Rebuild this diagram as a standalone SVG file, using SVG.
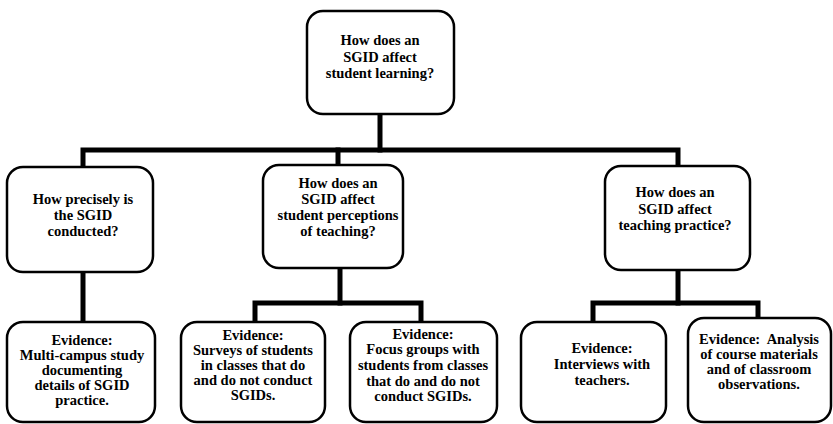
<svg xmlns="http://www.w3.org/2000/svg" width="833" height="424" viewBox="0 0 833 424">
<style>
.box{fill:#fff;stroke:#000;stroke-width:2.5}
.conn{fill:none;stroke:#000;stroke-width:5;stroke-linejoin:miter;stroke-linecap:square}
text{font-family:"Liberation Serif","DejaVu Serif","Times New Roman",serif;font-weight:bold;font-size:14.5px;text-anchor:middle;fill:#000}
</style>
<rect width="833" height="424" fill="#fff"/>
<g id="connectors">
<path class="conn" d="M380,114 V150"/>
<path class="conn" d="M83,167 V150 H678 V166"/>
<path class="conn" d="M338,150 V165"/>
<path class="conn" d="M83,272 V322"/>
<path class="conn" d="M340,268 V303"/>
<path class="conn" d="M255,322 V303 H421 V322"/>
<path class="conn" d="M678,270 V303"/>
<path class="conn" d="M593,322 V303 H758 V318"/>
</g>
<g id="root">
<rect class="box" x="307" y="11" width="147" height="103" rx="16"/>
<text x="380" y="45">How does an</text>
<text x="380" y="62">SGID affect</text>
<text x="380" y="78">student learning?</text>
</g>
<g id="q1">
<rect class="box" x="7" y="167" width="146" height="105" rx="16"/>
<text x="83" y="204">How precisely is</text>
<text x="83" y="220">the SGID</text>
<text x="83" y="236">conducted?</text>
</g>
<g id="q2">
<rect class="box" x="263" y="165" width="140" height="103" rx="16"/>
<text x="338" y="188">How does an</text>
<text x="338" y="204">SGID affect</text>
<text x="338" y="220">student perceptions</text>
<text x="338" y="236">of teaching?</text>
</g>
<g id="q3">
<rect class="box" x="605" y="166" width="145" height="104" rx="16"/>
<text x="675" y="197">How does an</text>
<text x="675" y="214">SGID affect</text>
<text x="675" y="230">teaching practice?</text>
</g>
<g id="e1">
<rect class="box" x="7" y="322" width="148" height="100" rx="16"/>
<text x="82" y="345">Evidence:</text>
<text x="82" y="360">Multi-campus study</text>
<text x="82" y="375">documenting</text>
<text x="82" y="390">details of SGID</text>
<text x="82" y="405">practice.</text>
</g>
<g id="e2">
<rect class="box" x="181" y="322" width="144" height="100" rx="16"/>
<text x="253" y="340">Evidence:</text>
<text x="253" y="355">Surveys of students</text>
<text x="253" y="370">in classes that do</text>
<text x="253" y="385">and do not conduct</text>
<text x="253" y="400">SGIDs.</text>
</g>
<g id="e3">
<rect class="box" x="350" y="322" width="147" height="100" rx="16"/>
<text x="423" y="339">Evidence:</text>
<text x="423" y="354">Focus groups with</text>
<text x="423" y="370">students from classes</text>
<text x="423" y="386">that do and do not</text>
<text x="423" y="401">conduct SGIDs.</text>
</g>
<g id="e4">
<rect class="box" x="521" y="322" width="145" height="100" rx="16"/>
<text x="602" y="353">Evidence:</text>
<text x="602" y="369">Interviews with</text>
<text x="602" y="385">teachers.</text>
</g>
<g id="e5">
<rect class="box" x="688" y="318" width="143" height="104" rx="16"/>
<text x="759" y="344" xml:space="preserve">Evidence:  Analysis</text>
<text x="759" y="359">of course materials</text>
<text x="759" y="374">and of classroom</text>
<text x="759" y="389">observations.</text>
</g>
</svg>
